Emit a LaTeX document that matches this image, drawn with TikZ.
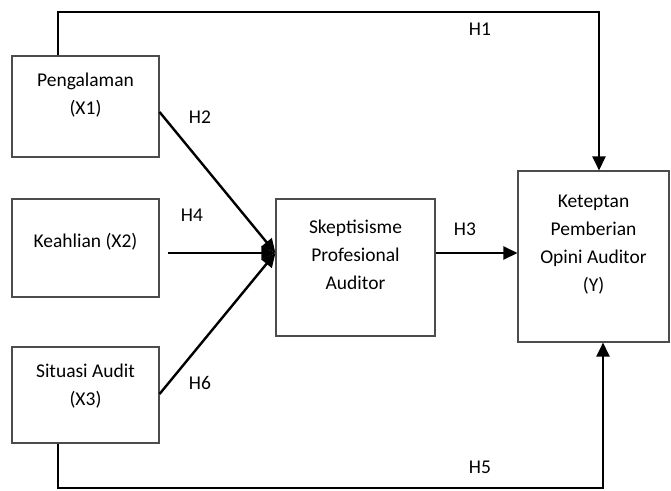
\documentclass[tikz,border=0pt]{standalone}
\usepackage{fontspec}
\setmainfont{Carlito}
\usetikzlibrary{arrows.meta}
\tikzset{varbox/.style={draw=black!70,line width=1.1pt,inner sep=0pt},
 boxtext/.style={align=center,inner sep=0pt,font=\fontsize{19.5}{28}\selectfont},
 hlabel/.style={inner sep=0pt,font=\fontsize{19.5}{24}\selectfont},
 conn/.style={draw=black,line width=2.4pt},
 arr/.style={conn,-{Triangle[length=14pt,width=13pt]}},
 }

\begin{document}
\begin{tikzpicture}[x=1pt,y=-1pt]
        \useasboundingbox (0,0) rectangle (671,490);
        % variable boxes
        \node[varbox,minimum width=147pt,minimum height=101pt] (x1) at (85.5,106.5) {};
        \node[varbox,minimum width=147pt,minimum height=98pt] (x2) at (85.5,248) {};
        \node[varbox,minimum width=147pt,minimum height=96pt] (x3) at (85.5,395) {};
        \node[varbox,minimum width=159pt,minimum height=137pt] (m) at (355.5,267.5) {};
        \node[varbox,minimum width=151pt,minimum height=171pt] (y) at (593.5,256.5) {};

        \node[boxtext] (x1t) at ([yshift=11pt]x1.center) {Pengalaman\\(X1)};
        \node[boxtext] (x2t) at ([yshift=6pt]x2.center) {Keahlian (X2)};
        \node[boxtext] (x3t) at ([yshift=9pt]x3.center) {Situasi Audit\\(X3)};
        \node[boxtext] (mt) at ([yshift=13pt]m.center) {Skeptisisme\\Profesional\\Auditor};
        \node[boxtext] (yt) at ([yshift=12pt]y.center) {Keteptan\\Pemberian\\Opini Auditor\\(Y)};

        % connectors
        \coordinate (mi) at ([yshift=14.5pt]m.west);
        \coordinate (t1) at (58,12);
        \coordinate (t2) at (599,12);
        \coordinate (b1) at (58,488);
        \coordinate (b2) at (603,488);
        \draw[arr] (t1 |- x1.north) -- (t1) -- (t2) -- (t2 |- y.north);
        \draw[arr] (b1 |- x3.south) -- (b1) -- (b2) -- (b2 |- y.south);
        \draw[arr] ([yshift=-5.5pt]x1.east) -- (mi);
        \draw[arr] ([xshift=8pt]x2.east |- mi) -- (mi);
        \draw[arr] ([yshift=1pt]x3.east) -- (mi);
        \draw[arr] (m.east |- mi) -- (y.west |- mi);

        % hypothesis labels
        \node[hlabel] (h1) at (480,29) {H1};
        \node[hlabel] (h2) at (200,117) {H2};
        \node[hlabel] (h3) at (465,229) {H3};
        \node[hlabel] (h4) at (192,215) {H4};
        \node[hlabel] (h5) at (480,467) {H5};
        \node[hlabel] (h6) at (200,383) {H6};
    \end{tikzpicture}
\end{document}
